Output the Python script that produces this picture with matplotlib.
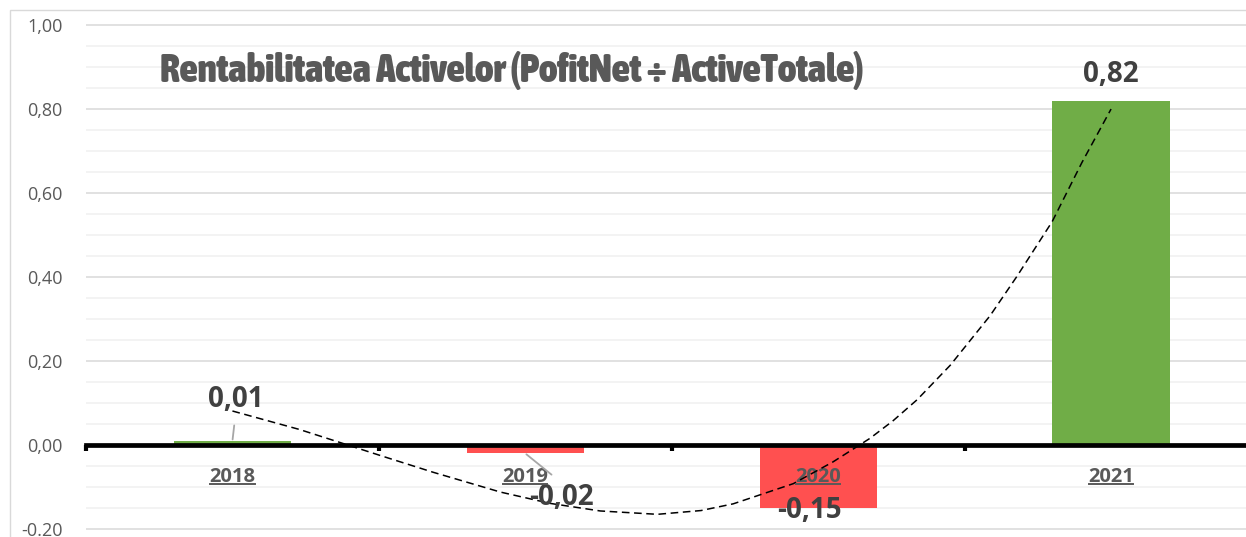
import matplotlib
matplotlib.use("Agg")
import matplotlib.pyplot as plt
from matplotlib.patches import Rectangle
from matplotlib.lines import Line2D
from matplotlib import font_manager as fm
import numpy as np

# ---- data ----
years = ["2018", "2019", "2020", "2021"]
values = [0.01, -0.02, -0.15, 0.82]
value_labels = ["0,01", "-0,02", "-0,15", "0,82"]
ytick_values = [-0.20, 0.00, 0.20, 0.40, 0.60, 0.80, 1.00]
ytick_labels = ["-0.20", "0,00", "0,20", "0,40", "0,60", "0,80", "1,00"]
# dashed trend curve (category position, value)
trend_x = [0.0, 0.229, 0.403, 0.505, 0.686, 0.915, 1.085, 1.256, 1.451, 1.60,
           1.710, 1.915, 2.051, 2.177, 2.256, 2.338, 2.451, 2.587, 2.679, 2.799, 2.90, 3.0]
trend_y = [0.081, 0.037, -0.002, -0.025, -0.065, -0.112, -0.139, -0.157, -0.165, -0.156,
           -0.140, -0.092, -0.040, 0.016, 0.058, 0.108, 0.190, 0.308, 0.402, 0.532, 0.672, 0.800]
title = "Rentabilitatea Activelor (PofitNet \u00f7 ActiveTotale)"

plt.rcParams['font.family'] = ['Open Sans', 'DejaVu Sans']

# look for a condensed / narrow bold face for the title
title_fp = None
cands = []
for f in fm.fontManager.ttflist:
    nm = f.name.lower()
    narrow = ('narrow' in nm or 'condensed' in nm or
              f.stretch in ('condensed', 'semi-condensed', 'extra-condensed', 'ultra-condensed'))
    if narrow:
        w = f.weight if isinstance(f.weight, int) else (700 if 'bold' in str(f.weight) else 400)
        cands.append((0 if f.style == 'normal' else 1, -w, f.fname))
if cands:
    cands.sort()
    title_fp = fm.FontProperties(fname=cands[0][2])
else:
    title_fp = fm.FontProperties(family='DejaVu Sans', weight='bold')

W, H = 1246, 537
fig = plt.figure(figsize=(W / 100, H / 100), dpi=100)
fig.patch.set_facecolor('white')

# outer chart border
fig.patches.append(Rectangle((10 / W, -0.1), 1.2, 1.1 - 10 / H, transform=fig.transFigure,
                             fill=False, edgecolor='#d9d9d9', linewidth=1.0, zorder=0))

ax = fig.add_axes([86 / W, 0, (1257.5 - 86) / W, (537 - 20) / H])
ax.set_facecolor('none')
x = np.arange(len(years))
colors = ['#70AD47' if v >= 0 else '#FF5050' for v in values]
ax.bar(x, values, width=0.4, color=colors, zorder=2)

ax.set_xlim(-0.5, 3.5)
ax.set_ylim(-0.219, 1.012)

ax.set_yticks(ytick_values)
ax.set_yticklabels(ytick_labels)
ax.set_yticks(np.arange(-0.2, 1.0001, 0.05), minor=True)
ax.grid(which='major', axis='y', color='#d9d9d9', linewidth=1.1, zorder=0)
ax.grid(which='minor', axis='y', color='#f0f0f0', linewidth=1.1, zorder=0)
ax.set_axisbelow(True)

for s in ['left', 'right', 'top']:
    ax.spines[s].set_visible(False)
ax.spines['bottom'].set_position(('data', 0))
ax.spines['bottom'].set_linewidth(3.4)
ax.spines['bottom'].set_color('black')
ax.spines['bottom'].set_zorder(3)
ax.xaxis.set_zorder(3.5)

ax.set_xticks(x)
ax.set_xticklabels(years)
ax.set_xticks(np.arange(-0.5, 3.6, 1.0), minor=True)
ax.tick_params(axis='y', which='both', length=0, pad=17, labelsize=13, labelcolor='#595959')
ax.tick_params(axis='x', which='major', length=0, pad=16, labelsize=14.5, labelcolor='#595959')
ax.tick_params(axis='x', which='minor', length=4, width=3, color='black', direction='out')
for lab in ax.get_xticklabels():
    lab.set_fontweight('bold')

# trend line
ax.plot(trend_x, trend_y, color='black', linewidth=1.1, linestyle=(0, (5, 3)), zorder=4)

# data labels (offsets in points)
offsets = [(2.2, 29.5), (26, -31.5), (-6, -1.5), (0, 19)]
leader_rel = [(0.5, 0.0), (0.5, 1.0), None, None]
leader_shrink = [6, 6, 0, 0]
for i, (v, lab) in enumerate(zip(values, value_labels)):
    kw = {}
    if leader_rel[i] is not None:
        kw['arrowprops'] = dict(arrowstyle='-', color='#a6a6a6', linewidth=1.3,
                                relpos=leader_rel[i], shrinkA=leader_shrink[i], shrinkB=1)
    ax.annotate(lab, xy=(i, v), xytext=offsets[i], textcoords='offset points',
                ha='center', va='center', fontsize=20, fontweight='bold',
                color='#404040', zorder=5, **kw)

# title (condensed face, sized to the original width)
t = fig.text(512 / W, 1 - 71 / H, title, ha='center', va='center',
             fontproperties=title_fp, color='#595959')
t.set_fontsize(26)
fig.canvas.draw()
r = fig.canvas.get_renderer()
wt = t.get_window_extent(r).width
t.set_fontsize(26 * 705 / wt)

# underline the category labels
fig.canvas.draw()
for lab in ax.get_xticklabels():
    bb = lab.get_window_extent(r)
    yy = (bb.y0 + 3.5) / H
    fig.lines.append(Line2D([bb.x0 / W + 1 / W, bb.x1 / W - 1 / W], [yy, yy],
                            transform=fig.transFigure, color='#595959', linewidth=1.4,
                            zorder=6))

fig.savefig('out.png', dpi=100)
